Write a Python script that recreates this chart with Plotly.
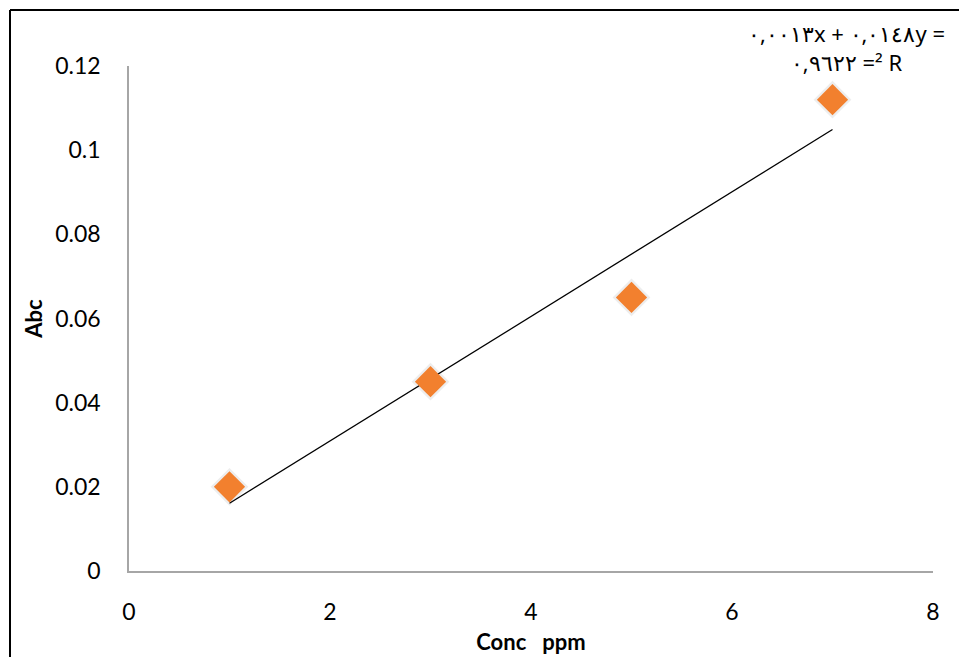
import plotly.graph_objects as go

conc = [1, 3, 5, 7]
absorb = [0.02, 0.045, 0.065, 0.112]
slope = 0.0148
intercept = 0.0013
trend_x = [1, 7]
trend_y = [slope * x + intercept for x in trend_x]
x_ticks = [0, 2, 4, 6, 8]
y_ticks = [0, 0.02, 0.04, 0.06, 0.08, 0.1, 0.12]
y_tick_text = ["0", "0.02", "0.04", "0.06", "0.08", "0.1", "0.12"]
eq_line1 = "\u202d٠,٠٠١٣x + ٠,٠١٤٨y =\u202c"
eq_line2 = "\u202d٠,٩٦٢٢ =² R\u202c"

FONT = "Lato, 'Open Sans', sans-serif"

fig = go.Figure()
# soft shadow
fig.add_trace(go.Scatter(x=conc, y=absorb, mode="markers",
                         marker=dict(symbol="diamond", size=29, color="rgba(110,110,110,0.12)",
                                     line=dict(width=0)),
                         hoverinfo="skip", showlegend=False))
fig.add_trace(go.Scatter(x=trend_x, y=trend_y, mode="lines",
                         line=dict(color="black", width=1.3), showlegend=False))
fig.add_trace(go.Scatter(x=conc, y=absorb, mode="markers",
                         marker=dict(symbol="diamond", size=24, color="#F2802E",
                                     line=dict(width=0)),
                         showlegend=False))

L, R, T, B = 129, 26, 66, 86
W, H = 959, 657
pw, ph = W - L - R, H - T - B
bx = (10 - L) / pw
by = 1 + (T - 10) / ph

fig.update_layout(
    width=W, height=H,
    margin=dict(l=L, r=R, t=T, b=B, autoexpand=False),
    paper_bgcolor="white", plot_bgcolor="white",
    font=dict(family=FONT, size=23, color="black"),
    xaxis=dict(range=[0, 8], tickvals=x_ticks, showgrid=False, zeroline=False,
               showline=True, linecolor="#A6A6A6", linewidth=1.5, ticks="",
               ticklabelstandoff=20, automargin=False,
               title=dict(text="<b>Conc&nbsp;&nbsp; ppm</b>", font=dict(size=22), standoff=10)),
    yaxis=dict(range=[0, 0.12], tickvals=y_ticks, ticktext=y_tick_text, showgrid=False,
               zeroline=False, showline=True, linecolor="#A6A6A6", linewidth=1.5, ticks="",
               ticklabelstandoff=22, automargin=False,
               title=dict(text="<b>Abc</b>", font=dict(size=22), standoff=6)),
    shapes=[
        dict(type="line", xref="paper", yref="paper", x0=bx, x1=bx, y0=by, y1=-0.3,
             line=dict(color="black", width=2)),
        dict(type="line", xref="paper", yref="paper", x0=bx, x1=1.1, y0=by, y1=by,
             line=dict(color="black", width=2)),
    ],
    annotations=[
        dict(text=eq_line1 + "<br>" + eq_line2, xref="paper", yref="paper",
             x=(846 - L) / pw, y=1 + (T - 16) / ph, xanchor="center", yanchor="top",
             showarrow=False, align="center",
             font=dict(family="'Noto Sans', sans-serif", size=22, color="black")),
    ],
)

fig.write_html("out.html")
